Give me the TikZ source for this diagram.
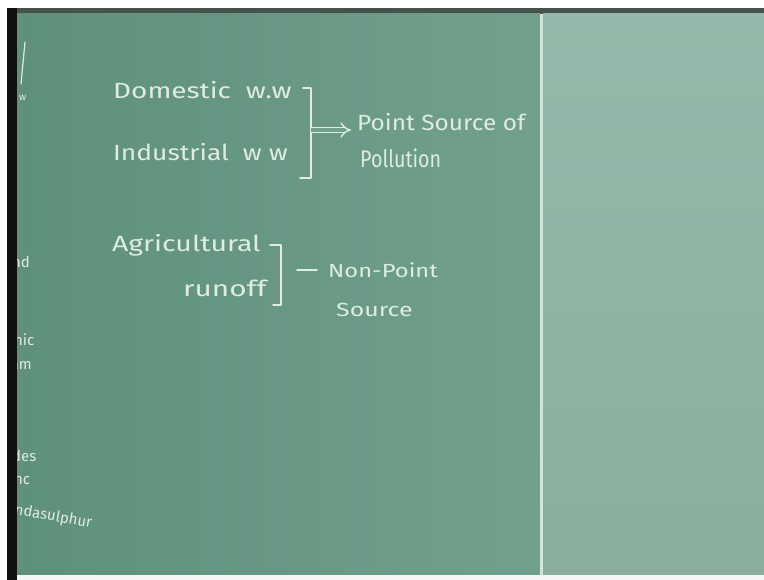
\documentclass[tikz,border=0pt]{standalone}
\usepackage{fontspec}
\setmainfont{Fira Sans}
\usetikzlibrary{arrows.meta}

\definecolor{boardL}{RGB}{94,144,124}
\definecolor{boardM}{RGB}{114,160,142}
\definecolor{boardR}{RGB}{150,184,170}
\definecolor{boardRd}{RGB}{138,174,158}
\definecolor{frame}{RGB}{14,18,14}
\definecolor{rail}{RGB}{70,82,76}
\definecolor{chalk}{RGB}{222,236,226}

% horizontally stretched handwriting
\newcommand\chalkw[2]{\scalebox{#1}[1]{#2}}

\tikzset{
  chalktext/.style={text=chalk, inner sep=0pt, anchor=base west, font=\fontsize{22}{24}\selectfont},
  smalltext/.style={chalktext, font=\fontsize{15}{16}\selectfont},
  chalkline/.style={draw=chalk, line width=1.6pt, line cap=round, line join=round},
}

\begin{document}
\begin{tikzpicture}[x=1pt,y=-1pt]
\useasboundingbox (0,0) rectangle (764,580);

% paper surround, frame and rail
\fill[white] (0,0) rectangle (764,580);
\fill[frame] (7,8) rectangle (17,580);
\fill[rail] (17,8) rectangle (764,14);

% board panels
\shade[left color=boardL, right color=boardM] (17,14) rectangle (540,575);
\shade[top color=boardR, bottom color=boardRd] (543,14) rectangle (764,575);
\fill[chalk!85!boardR] (540,14) rectangle (543,575);
\fill[white!92!boardM] (17,575) rectangle (764,580);

% clipped fragments at the left edge of the board
\begin{scope}
\clip (17,14) rectangle (120,575);
\draw[chalkline, line width=1.2pt] (25,42) -- (21,84);
\node[smalltext, font=\fontsize{10}{11}\selectfont] (fa) at (19,101) {w};
\node[smalltext] (fb) at (12,268) {nd};
\node[smalltext] (fc) at (14,346) {nic};
\node[smalltext] (fd) at (10,370) {nm};
\node[smalltext] (fe) at (12,461) {des};
\node[smalltext] (ff) at (14,484) {nc};
\node[smalltext, rotate=-10] (fg) at (14,514) {ndasulphur};
\end{scope}

% point sources
\node[chalktext] (dom) at (113,99) {\chalkw{1.27}{Domestic \ w.w}};
\node[chalktext] (ind) at (113,161) {\chalkw{1.2}{Industrial \ w w}};
\draw[chalkline] (303,88) -- (311,88) -- (311,178) -- (300,178);
\coordinate (b1) at (311,130);
\node[chalktext] (pso) at (357,131) {\chalkw{1.11}{Point Source of}};
\node[chalktext, font=\fontsize{24}{26}\selectfont] (pol) at (360,168) {\chalkw{0.82}{Pollution}};
\draw[chalk, line width=1.4pt, double=boardM, double distance=4pt, -{Implies}, shorten >=6pt]
  (b1) -- (pso.west |- b1);

% non-point source
\node[chalktext] (agr) at (112,252) {\chalkw{1.29}{Agricultural}};
\node[chalktext] (run) at (183,297) {\chalkw{1.35}{runoff}};
\draw[chalkline] (270,245) -- (281,245) -- (281,305) -- (273,305);
\coordinate (b2) at (281,270);
\node[chalktext, font=\fontsize{19}{20}\selectfont] (np) at (328,278) {\chalkw{1.25}{Non-Point}};
\node[chalktext, font=\fontsize{19}{20}\selectfont] (src) at (336,317) {\chalkw{1.31}{Source}};
\draw[chalkline] (b2) ++(16,0) -- (317,270);
\end{tikzpicture}
\end{document}
